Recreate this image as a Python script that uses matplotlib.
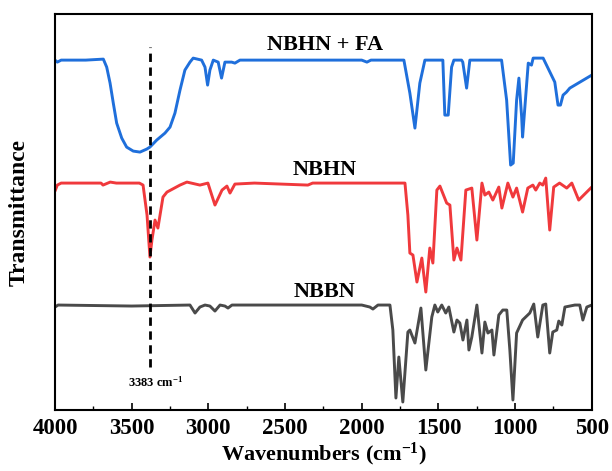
import matplotlib.pyplot as plt
from matplotlib.ticker import MultipleLocator

# FTIR spectra, values (arbitrary transmittance units)
fa_wn = [4000, 3985, 3960, 3800, 3685, 3663, 3641, 3620, 3598, 3565, 3533, 3490, 3446,
         3402, 3381, 3337, 3283, 3250, 3218, 3185, 3153, 3120, 3099, 3044, 3022, 3005,
         2990, 2968, 2936, 2914, 2892, 2848, 2827, 2794, 2000,
         1966, 1940, 1725, 1686, 1653, 1621, 1588, 1471, 1458, 1436, 1414, 1399, 1349,
         1341, 1316, 1295, 1088, 1055, 1029, 1012, 990, 975, 957, 951, 936, 914, 893,
         882, 817, 741, 720, 704, 687, 665, 643, 500]
fa_t = [350, 348, 350, 350, 351, 343, 327, 307, 287, 272, 263, 259, 258,
        261, 263, 270, 277, 283, 297, 320, 340, 348, 352, 350, 343, 325,
        340, 350, 348, 332, 348, 348, 347, 350, 350,
        348, 350, 350, 317, 282, 327, 350, 350, 295, 295, 343, 350, 350,
        348, 322, 350, 350, 310, 245, 247, 310, 332, 293, 273, 303, 347, 345,
        352, 352, 328, 305, 305, 315, 318, 322, 335]

nbhn_wn = [4000, 3985, 3960, 3700, 3687, 3640, 3600, 3450, 3426, 3400, 3381, 3368, 3348,
           3329, 3296, 3270, 3185, 3140, 3055, 3003, 2957, 2911, 2879, 2859, 2827, 2700,
           2351, 2320, 1738, 1718, 1699, 1686, 1666, 1640, 1608, 1582, 1556, 1536, 1510,
           1490, 1446, 1425, 1399, 1379, 1353, 1321, 1282, 1249, 1216, 1197, 1171, 1145,
           1106, 1086, 1047, 1014, 990, 951, 917, 884, 865, 839, 819, 800, 774, 748,
           710, 663, 630, 585, 500]
nbhn_t = [219, 225, 227, 227, 225, 228, 227, 227, 225, 195, 153, 170, 190,
          182, 213, 218, 225, 228, 225, 227, 205, 220, 224, 217, 226, 227,
          225, 227, 227, 227, 195, 157, 155, 128, 152, 118, 162, 147, 220,
          224, 207, 205, 150, 162, 150, 220, 222, 170, 227, 215, 218, 210,
          223, 202, 227, 213, 222, 198, 222, 225, 220, 227, 225, 232, 180, 223,
          227, 222, 227, 210, 223]

nbbn_wn = [4000, 3980, 3500, 3120, 3087, 3055, 3022, 2990, 2957, 2924, 2892, 2872, 2846,
           2000, 1947, 1927, 1894, 1816, 1797, 1777, 1758, 1732, 1699, 1686, 1653, 1614,
           1582, 1543, 1523, 1504, 1478, 1452, 1432, 1399, 1379, 1360, 1340, 1314, 1301,
           1282, 1249, 1216, 1197, 1177, 1151, 1138, 1106, 1080, 1054, 1034, 1014, 990,
           951, 904, 878, 852, 819, 800, 774, 754, 728, 715, 695, 675, 610, 578, 558,
           532, 500]
nbbn_t = [103, 105, 104, 105, 97, 103, 105, 104, 99, 105, 104, 102, 105,
          105, 103, 101, 105, 105, 80, 12, 53, 8, 78, 80, 67, 102,
          40, 93, 105, 98, 105, 97, 103, 78, 90, 87, 70, 90, 60,
          73, 105, 57, 88, 77, 80, 55, 95, 100, 100, 60, 10, 77,
          90, 97, 106, 73, 105, 106, 57, 78, 80, 89, 85, 103, 105, 105, 90,
          103, 105]

labels = ['NBHN + FA', 'NBHN', 'NBBN']
label_y = [365, 240, 118]
peak_wn = 3383

plt.rcParams['font.family'] = ['Liberation Serif', 'DejaVu Serif']
plt.rcParams['font.weight'] = 'bold'
plt.rcParams['mathtext.fontset'] = 'custom'
plt.rcParams['mathtext.rm'] = 'Liberation Serif:bold'
plt.rcParams['mathtext.default'] = 'rm'

fig = plt.figure(figsize=(6.12, 4.71), dpi=100)
ax = fig.add_axes([0.0899, 0.1295, 0.877, 0.8405])

style = dict(lw=2.1, solid_joinstyle='round', solid_capstyle='round')
ax.plot(fa_wn, fa_t, color='#1F6FDB', **style)
ax.plot(nbhn_wn, nbhn_t, color='#F0393C', **style)
ax.plot(nbbn_wn, nbbn_t, color='#4A4A4A', **style)

ax.plot([peak_wn, peak_wn], [43, 363], color='black', lw=2.0, ls=(0, (3, 2)))
ax.text(3524, 28, '3383 cm$^{-1}$', fontsize=9, fontweight='bold',
        ha='left', va='center')

for lab, y in zip(labels, label_y):
    ax.text(2240, y, lab, fontsize=16, fontweight='bold', ha='center', va='center')

ax.set_xlim(4000, 500)
ax.set_ylim(0, 396)
ax.set_yticks([])
ax.xaxis.set_major_locator(MultipleLocator(500))
ax.xaxis.set_minor_locator(MultipleLocator(250))
ax.tick_params(axis='x', which='both', direction='in', top=False, labelsize=16.5, pad=6)
ax.tick_params(axis='x', which='major', length=5, width=1.2)
ax.tick_params(axis='x', which='minor', length=3, width=1.0)
for s in ax.spines.values():
    s.set_linewidth(1.5)

ax.set_xlabel('Wavenumbers (cm$^{-1}$)', fontsize=16, fontweight='bold', labelpad=1)
ax.set_ylabel('Transmittance', fontsize=17, fontweight='bold', labelpad=18)

fig.savefig('out.png', dpi=100)
